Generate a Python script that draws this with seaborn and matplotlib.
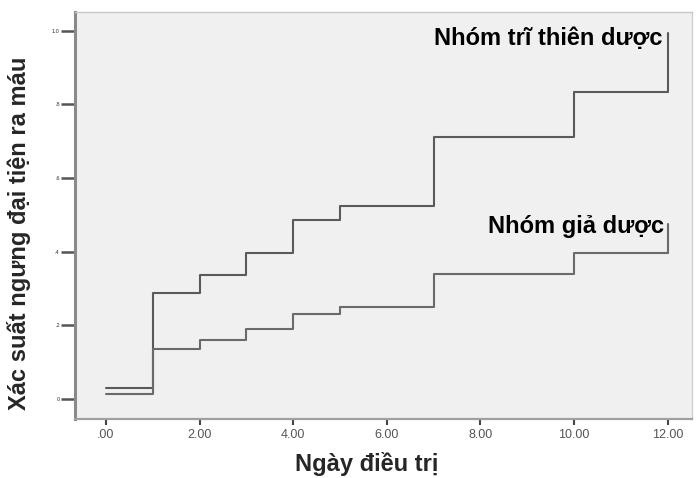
import matplotlib
matplotlib.use("Agg")
import matplotlib.pyplot as plt
import seaborn as sns
import pandas as pd

days = [0, 1, 2, 3, 4, 5, 7, 10, 12]
tri_thien_duoc = [0.031, 0.288, 0.337, 0.398, 0.485, 0.524, 0.711, 0.835, 0.995]
gia_duoc = [0.014, 0.136, 0.161, 0.190, 0.231, 0.250, 0.340, 0.398, 0.476]
group_names = ["Nhóm trĩ thiên dược", "Nhóm giả dược"]
x_ticks = [0, 2, 4, 6, 8, 10, 12]
x_tick_labels = [".00", "2.00", "4.00", "6.00", "8.00", "10.00", "12.00"]
y_ticks = [0, 0.2, 0.4, 0.6, 0.8, 1.0]
y_tick_labels = ["0", ".2", ".4", ".6", ".8", "1.0"]

df = pd.DataFrame({
    "day": days + days,
    "p": tri_thien_duoc + gia_duoc,
    "group": [group_names[0]] * len(days) + [group_names[1]] * len(days),
})

sns.set_style("white")
plt.rcParams["font.family"] = ["Liberation Sans", "DejaVu Sans"]

fig = plt.figure(figsize=(6.96, 4.78), dpi=100)
ax = fig.add_axes([75 / 696, 59 / 478, 617 / 696, 407 / 478])
ax.set_facecolor("#f0f0f0")

sns.lineplot(data=df, x="day", y="p", hue="group",
             palette={group_names[0]: "#5a5a5a", group_names[1]: "#6a6a6a"},
             drawstyle="steps-post", linewidth=1.5, legend=False, ax=ax,
             estimator=None)

ax.set_xlim(-0.66, 12.52)
ax.set_ylim(-0.054, 1.051)
ax.set_xticks(x_ticks)
ax.set_xticklabels(x_tick_labels, fontsize=9, color="#555555")
ax.set_yticks(y_ticks)
ax.set_yticklabels(y_tick_labels, fontsize=4, color="#333333")
ax.tick_params(axis="x", direction="out", length=4, width=1.5, color="#444444", pad=3, bottom=True)
ax.tick_params(axis="y", direction="out", length=10, width=1.8, color="#555555", pad=1, left=True)

ax.set_xlabel("Ngày điều trị", fontsize=17, fontweight="bold")
ax.set_ylabel("Xác suất ngưng đại tiện ra máu", fontsize=17, fontweight="bold")
ax.xaxis.set_label_coords(0.472, -0.082)
ax.yaxis.set_label_coords(-0.071, 0.457)

for side, col, lw in [("left", "#8a8a8a", 2.2), ("bottom", "#a0a0a0", 1.6),
                      ("top", "#c8c8c8", 1.0), ("right", "#d0d0d0", 1.0)]:
    ax.spines[side].set_visible(True)
    ax.spines[side].set_color(col)
    ax.spines[side].set_linewidth(lw)

ax.text(11.88, 0.978, group_names[0], ha="right", va="center",
        fontsize=17, fontweight="bold", color="black")
ax.text(11.92, 0.468, group_names[1], ha="right", va="center",
        fontsize=17, fontweight="bold", color="black")

fig.savefig("out.png", dpi=100)
